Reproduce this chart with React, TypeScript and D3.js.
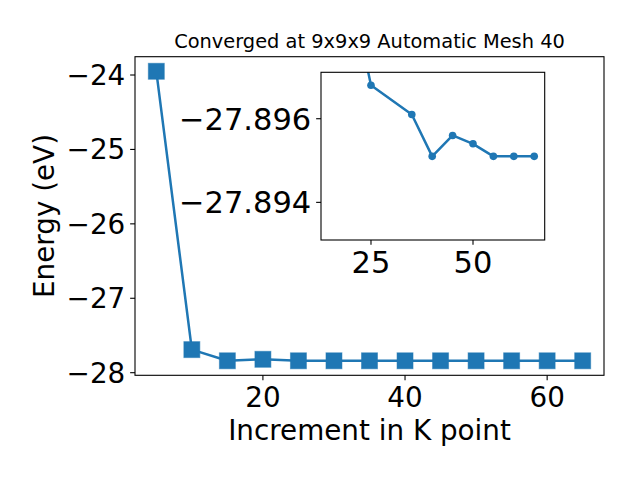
import React from "react";
import * as d3 from "d3";

const kPoints = [5, 10, 15, 20, 25, 30, 35, 40, 45, 50, 55, 60, 65];
const energies = [-23.95, -27.69, -27.84, -27.82, -27.84, -27.84, -27.84, -27.84, -27.84, -27.84, -27.84, -27.84, -27.84];
const xTicks = [20, 40, 60];
const yTicks = [-24, -25, -26, -27, -28];

const insetK = [20, 25, 35, 40, 45, 50, 55, 60, 65];
const insetE = [-27.8991, -27.8968, -27.8961, -27.8951, -27.8956, -27.8954, -27.8951, -27.8951, -27.8951];
const insetXTicks = [25, 50];
const insetYTicks = [-27.896, -27.894];

const title = "Converged at 9x9x9 Automatic Mesh 40";
const xLabel = "Increment in K point";
const yLabel = "Energy (eV)";

const C = "#1f77b4";
const FONT = "DejaVu Sans, sans-serif";

export default function App() {
  const W = 640, H = 480;
  const L = 135, R = 604, T = 56.7, B = 375.3;
  const x = d3.scaleLinear().domain([2, 68]).range([L, R]);
  const y = d3.scaleLinear().domain([-28.035, -23.754]).range([B, T]);

  const iL = 321, iR = 544.7, iT = 72.3, iB = 240;
  const ix = d3.scaleLinear().domain([12.75, 67.57]).range([iL, iR]);
  const iy = d3.scaleLinear().domain([-27.89711, -27.8931]).range([iT, iB]);

  const mainLine = d3.line<number>().x((d, i) => x(kPoints[i])).y((d) => y(d))(energies) || "";
  const insetLine = d3.line<number>().x((d, i) => ix(insetK[i])).y((d) => iy(d))(insetE) || "";

  const tickLen = 4.86;
  const ms = 16;
  const fs = 27.8;
  const ifs = 30.5;
  const lw = 2.5;

  return (
    <svg width={W} height={H} style={{ display: "block", position: "absolute", left: 0, top: 0 }} fontFamily={FONT}>
      <rect width={W} height={H} fill="white" />
      <defs>
        <clipPath id="mainClip"><rect x={L} y={T} width={R - L} height={B - T} /></clipPath>
        <clipPath id="insetClip"><rect x={iL} y={iT} width={iR - iL} height={iB - iT} /></clipPath>
      </defs>
      {/* main */}
      <g clipPath="url(#mainClip)">
        <path d={mainLine} fill="none" stroke={C} strokeWidth={lw} strokeLinejoin="round" />
        {energies.map((e, i) => (
          <rect key={i} x={x(kPoints[i]) - ms / 2} y={y(e) - ms / 2} width={ms} height={ms} fill={C} stroke={C} strokeOpacity={0.5} strokeWidth={1} />
        ))}
      </g>
      <rect x={L} y={T} width={R - L} height={B - T} fill="none" stroke="black" strokeWidth={1.1} />
      {xTicks.map((t) => (
        <g key={t}>
          <line x1={x(t)} x2={x(t)} y1={B} y2={B + tickLen} stroke="black" strokeWidth={1.1} />
          <text x={x(t)} y={406.7} textAnchor="middle" fontSize={fs} fill="black">{t}</text>
        </g>
      ))}
      {yTicks.map((t) => (
        <g key={t}>
          <line x1={L - tickLen} x2={L} y1={y(t)} y2={y(t)} stroke="black" strokeWidth={1.1} />
          <text x={L - 2 * tickLen} y={y(t)} dy="0.36em" textAnchor="end" fontSize={fs} fill="black">{"\u2212" + Math.abs(t)}</text>
        </g>
      ))}
      <text x={(L + R) / 2} y={440} textAnchor="middle" fontSize={fs} fill="black">{xLabel}</text>
      <text transform={`translate(54,${(T + B) / 2}) rotate(-90)`} textAnchor="middle" fontSize={fs} fill="black">{yLabel}</text>
      <text x={(L + R) / 2} y={48} textAnchor="middle" fontSize={19.4} fill="black">{title}</text>

      {/* inset */}
      <rect x={iL} y={iT} width={iR - iL} height={iB - iT} fill="white" />
      <g clipPath="url(#insetClip)">
        <path d={insetLine} fill="none" stroke={C} strokeWidth={lw} strokeLinejoin="round" />
        {insetE.map((e, i) => (
          <circle key={i} cx={ix(insetK[i])} cy={iy(e)} r={3.8} fill={C} />
        ))}
      </g>
      <rect x={iL} y={iT} width={iR - iL} height={iB - iT} fill="none" stroke="black" strokeWidth={1.1} />
      {insetXTicks.map((t) => (
        <g key={t}>
          <line x1={ix(t)} x2={ix(t)} y1={iB} y2={iB + tickLen} stroke="black" strokeWidth={1.1} />
          <text x={ix(t)} y={272.5} textAnchor="middle" fontSize={ifs} fill="black">{t}</text>
        </g>
      ))}
      {insetYTicks.map((t) => (
        <g key={t}>
          <line x1={iL - tickLen} x2={iL} y1={iy(t)} y2={iy(t)} stroke="black" strokeWidth={1.1} />
          <text x={iL - 2 * tickLen} y={iy(t)} dy="0.36em" textAnchor="end" fontSize={ifs} fill="black">{"\u2212" + Math.abs(t).toFixed(3)}</text>
        </g>
      ))}
    </svg>
  );
}
